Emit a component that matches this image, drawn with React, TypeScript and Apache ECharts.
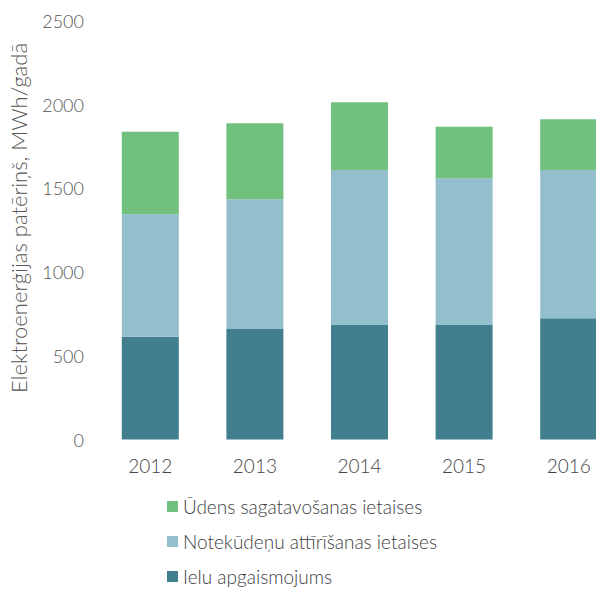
import React, { useEffect, useRef } from "react";
import * as echarts from "echarts";

const years = ["2012", "2013", "2014", "2015", "2016"];
const yTicks = [0, 500, 1000, 1500, 2000, 2500];

// MWh per year by consumer group
const udensSagatavosana = [494, 454, 404, 309, 303];
const notekudenuAttirisana = [731, 775, 926, 876, 886];
const ieluApgaismojums = [614, 660, 684, 684, 724];

const seriesNames = [
  "Ielu apgaismojums",
  "Notekūdeņu attīrīšanas ietaises",
  "Ūdens sagatavošanas ietaises",
];
const seriesColors = ["#417f8f", "#93bfcc", "#72c07e"];
const yTitle = "Elektroenerģijas patēriņš, MWh/gadā";

const FONT = "Lato, 'Open Sans', sans-serif";

export default function App() {
  const ref = useRef<HTMLDivElement>(null);

  useEffect(() => {
    if (!ref.current) return;
    const chart = echarts.init(ref.current, undefined, { renderer: "svg" });
    const values = [ieluApgaismojums, notekudenuAttirisana, udensSagatavosana];
    chart.setOption({
      animation: false,
      backgroundColor: "#ffffff",
      textStyle: { fontFamily: FONT },
      grid: { left: 98, right: 9, top: 21, bottom: 149.5, containLabel: false },
      xAxis: {
        type: "category",
        data: years,
        axisLine: { show: false },
        axisTick: { show: false },
        axisLabel: { color: "#454545", fontSize: 19, margin: 16, fontFamily: FONT, fontWeight: 300 },
      },
      yAxis: {
        type: "value",
        min: yTicks[0],
        max: yTicks[yTicks.length - 1],
        interval: 500,
        splitLine: { show: false },
        axisLine: { show: false },
        axisTick: { show: false },
        axisLabel: {
          color: "#555555",
          fontSize: 18,
          margin: 14,
          fontFamily: FONT,
          fontWeight: 300,
          formatter: (v: number) => String(v),
        },
      },
      legend: {
        orient: "vertical",
        left: 167,
        top: 497,
        padding: 0,
        itemWidth: 11,
        itemHeight: 11,
        itemGap: 16,
        icon: "rect",
        data: [seriesNames[2], seriesNames[1], seriesNames[0]],
        textStyle: { color: "#404040", fontSize: 19, lineHeight: 19, fontFamily: FONT, fontWeight: 300 },
      },
      graphic: [
        {
          type: "text",
          x: 18,
          y: 218,
          rotation: Math.PI / 2,
          style: {
            text: yTitle,
            fill: "#555555",
            fontSize: 22,
            fontWeight: 300,
            fontFamily: FONT,
            textAlign: "center",
            textVerticalAlign: "middle",
          },
        },
      ],
      series: seriesNames.map((name, i) => ({
        name,
        type: "bar",
        stack: "total",
        barWidth: 57,
        itemStyle: { color: seriesColors[i] },
        data: values[i],
      })),
    });
    return () => chart.dispose();
  }, []);

  return (
    <div
      style={{
        position: "fixed",
        left: 0,
        top: 0,
        width: 596,
        height: 589,
        overflow: "hidden",
        background: "#fff",
      }}
    >
      <div ref={ref} style={{ width: 630, height: 589 }} />
    </div>
  );
}
